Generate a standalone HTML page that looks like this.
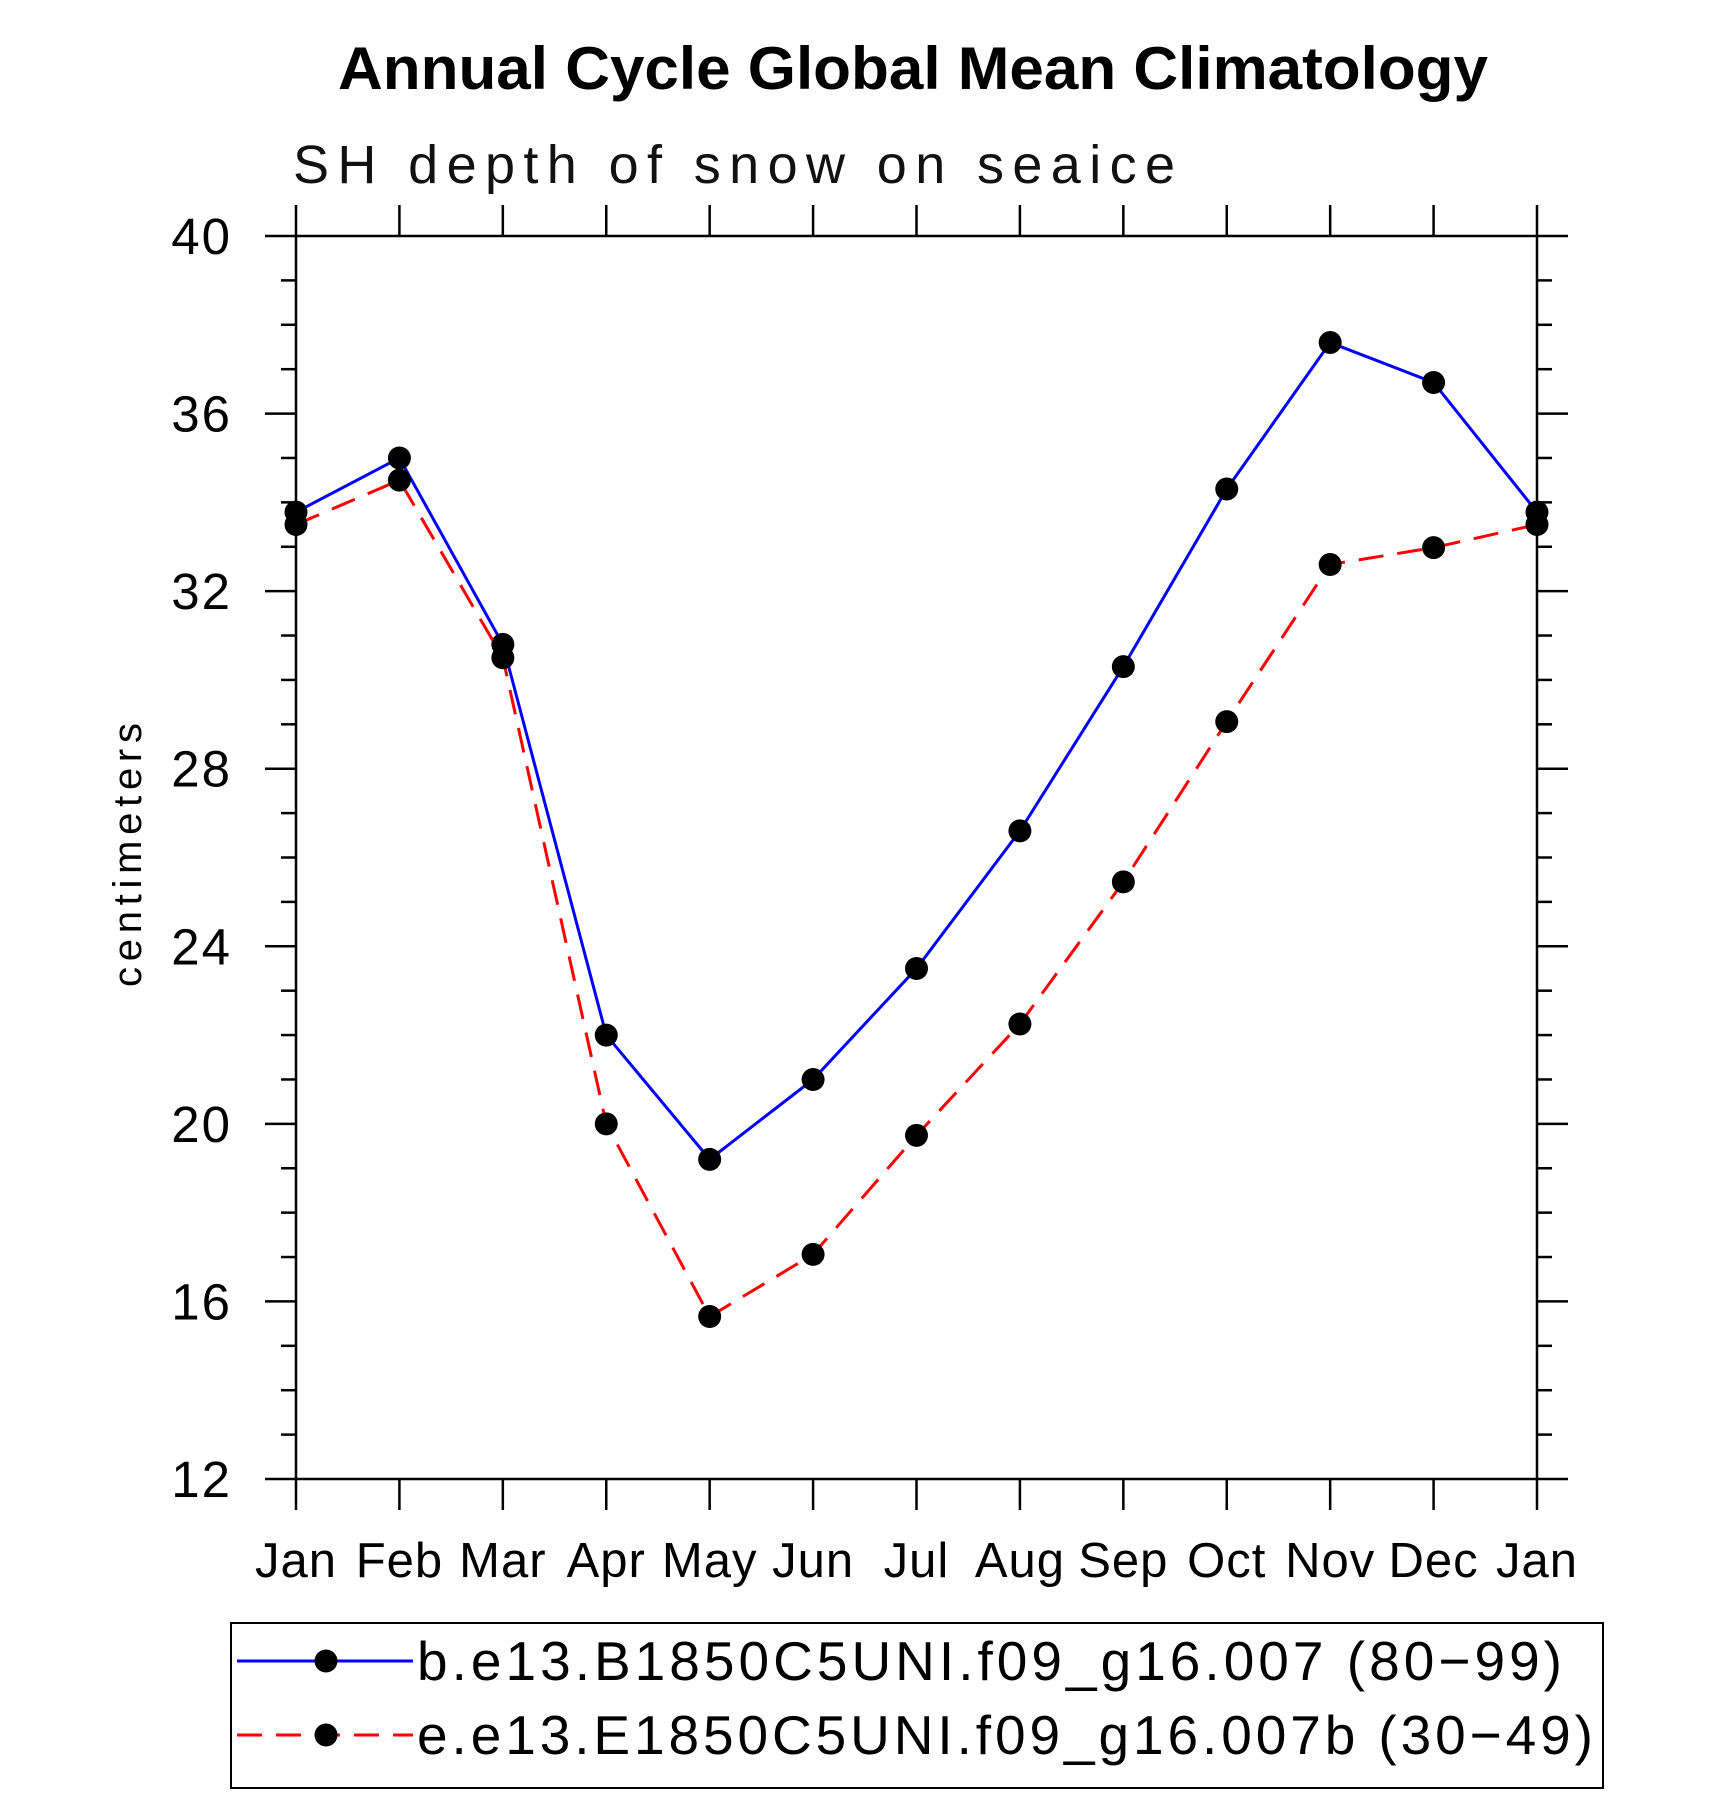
<!DOCTYPE html>
<html><head><meta charset="utf-8"><style>
body{margin:0;background:#fff}
svg text{font-family:"Liberation Sans","DejaVu Sans",sans-serif}
</style></head><body>
<svg width="1710" height="1795" viewBox="0 0 1710 1795" xmlns="http://www.w3.org/2000/svg">
<text x="338" y="89" font-size="60" font-weight="bold" textLength="1150" lengthAdjust="spacingAndGlyphs">Annual Cycle Global Mean Climatology</text>
<text x="293" y="183" font-size="54" textLength="882" lengthAdjust="spacing" fill="#111">SH depth of snow on seaice</text>
<text transform="translate(141,855) rotate(-90)" font-size="40" text-anchor="middle" textLength="264" lengthAdjust="spacing">centimeters</text>
<g id="axes"></g>
<g id="series"></g>
<rect x="231" y="1623" width="1372" height="165" fill="none" stroke="#000" stroke-width="2"/>
<g id="legend"></g>
</svg>
<script>
const months=["Jan","Feb","Mar","Apr","May","Jun","Jul","Aug","Sep","Oct","Nov","Dec","Jan"];
const yTicks=[12,16,20,24,28,32,36,40];
const seriesB=[33.78,35.0,30.8,22.0,19.2,21.0,23.5,26.6,30.3,34.3,37.6,36.7,33.78];
const seriesE=[33.5,34.5,30.5,20.0,15.66,17.06,19.74,22.25,25.45,29.06,32.6,32.98,33.5];
const names=["b.e13.B1850C5UNI.f09_g16.007 (80\u221299)","e.e13.E1850C5UNI.f09_g16.007b (30\u221249)"];
const legendLens=[1145,1176];
const L=296,R=1537,T=236,B=1479,ymin=12,ymax=40;
const NS="http://www.w3.org/2000/svg";
const xs=i=>L+(R-L)*i/(months.length-1);
const ys=v=>B-(B-T)*(v-ymin)/(ymax-ymin);
function mk(tag,attrs,parent){const e=document.createElementNS(NS,tag);for(const k in attrs)e.setAttribute(k,attrs[k]);parent.appendChild(e);return e;}
const ax=document.getElementById('axes');
let f=mk('rect',{x:L,y:T,width:R-L,height:B-T,fill:'none',stroke:'#000','stroke-width':2.5},ax);


for(let v=ymin;v<=ymax;v++){const maj=(v%4===0);const len=maj?31:15;const y=ys(v);
 mk('line',{x1:L-len,x2:L,y1:y,y2:y,stroke:'#000','stroke-width':2.5},ax);
 mk('line',{x1:R,x2:R+len,y1:y,y2:y,stroke:'#000','stroke-width':2.5},ax);}
yTicks.forEach(v=>{const t=mk('text',{x:232,y:ys(v)+18,'font-size':51,'text-anchor':'end','letter-spacing':'2'},ax);t.textContent=v;
 
 });
months.forEach((m,i)=>{const x=xs(i);
 mk('line',{x1:x,x2:x,y1:T-31,y2:T,stroke:'#000','stroke-width':2.5},ax);
 mk('line',{x1:x,x2:x,y1:B,y2:B+31,stroke:'#000','stroke-width':2.5},ax);
 const t=mk('text',{x:x,y:1577,'font-size':49,'text-anchor':'middle','letter-spacing':'1'},ax);t.textContent=m;
 
 });
const sg=document.getElementById('series');
function draw(data,color,dash,name){
 const p=mk('polyline',{points:data.map((v,i)=>xs(i)+','+ys(v)).join(' '),fill:'none',stroke:color,'stroke-width':3,'stroke-dasharray':dash},sg);
 
 
 data.forEach((v,i)=>{const c=mk('circle',{cx:xs(i),cy:ys(v),r:11.5,fill:'#000'},sg);
  
  });
}
draw(seriesB,'#0000ff','none','series-b');
draw(seriesE,'#ff0000','25,14','series-e');
const lg=document.getElementById('legend');
[[1661,'#0000ff','none'],[1735,'#ff0000','25,14']].forEach((d,i)=>{
 const g=mk('g',{},lg);
 
 
 mk('line',{x1:237,x2:413,y1:d[0],y2:d[0],stroke:d[1],'stroke-width':3,'stroke-dasharray':d[2]},g);
 mk('circle',{cx:326,cy:d[0],r:11.5,fill:'#000'},g);
 const t=mk('text',{x:417,y:d[0]+19,'font-size':55,textLength:legendLens[i],lengthAdjust:'spacing'},g);t.textContent=names[i];
});
</script>
</body></html>
